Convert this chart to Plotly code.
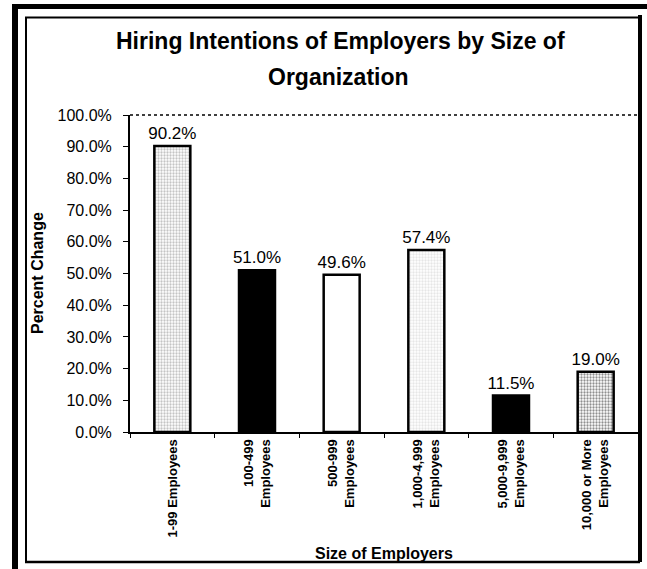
import plotly.graph_objects as go

# ---- data ----
categories = ["1-99 Employees", "100-499<br>Employees", "500-999<br>Employees",
              "1,000-4,999<br>Employees", "5,000-9,999<br>Employees",
              "10,000 or More<br>Employees"]
values = [0.902, 0.510, 0.496, 0.574, 0.115, 0.190]
y_tickvals = [0.0, 0.1, 0.2, 0.3, 0.4, 0.5, 0.6, 0.7, 0.8, 0.9, 1.0]

title_line1 = "Hiring Intentions of Employers by Size of"
title_line2 = "Organization"
y_title = "Percent Change"
x_title = "Size of Employers"

# ---- styles ----
bar_colors = ["#c4c4c4", "#000000", "#ffffff", "#e6e6e6", "#000000", "#8f8f8f"]
pat_shapes = [".", "", "", ".", "", "."]
pat_fg = ["#4a4a4a", "#000000", "#ffffff", "#7a7a7a", "#000000", "#333333"]
pat_bg = ["#d2d2d2", "#000000", "#ffffff", "#efefef", "#000000", "#a3a3a3"]

FONT = "Liberation Sans, Arial, sans-serif"
W, H = 647, 569
L, R, T, B = 130, 9, 115, 137
PW, PH = W - L - R, H - T - B


def px(x):
    return (x - L) / PW


def py(y):
    return (H - B - y) / PH


fig = go.Figure()
fig.add_trace(go.Bar(
    x=categories,
    y=values,
    texttemplate="%{y:.1%}",
    textposition="outside",
    constraintext="none",
    cliponaxis=False,
    textfont=dict(family=FONT, size=17, color="black"),
    marker=dict(
        color=bar_colors,
        line=dict(color="black", width=2.5),
        pattern=dict(shape=pat_shapes, fgcolor=pat_fg, bgcolor=pat_bg,
                     size=3, solidity=0.45, fillmode="replace"),
    ),
    showlegend=False,
))


def line(x0, y0, x1, y1, w, dash="solid", color="black"):
    return dict(type="line", xref="paper", yref="paper",
                x0=px(x0), y0=py(y0), x1=px(x1), y1=py(y1),
                line=dict(color=color, width=w, dash=dash), layer="above")


shapes = [
    # outer thick border (partial, as scanned)
    line(12, 6.5, 647, 6.5, 5),
    line(15, 4, 15, 569, 6),
    # inner thin frame
    line(25, 17.5, 640, 17.5, 2),
    line(26, 17.5, 26, 562, 2),
    line(25, 562, 640, 562, 2.5),
    line(640, 15, 640, 562, 4),
    # top of plot area (dotted)
    line(130, 115, 638, 115, 1.5, dash="dot"),
]

annotations = [
    dict(text="<b>" + title_line1 + "</b>", xref="paper", yref="paper",
         x=px(340), y=py(41), xanchor="center", yanchor="middle",
         showarrow=False, font=dict(family=FONT, size=23, color="black")),
    dict(text="<b>" + title_line2 + "</b>", xref="paper", yref="paper",
         x=px(338), y=py(77), xanchor="center", yanchor="middle",
         showarrow=False, font=dict(family=FONT, size=23, color="black")),
    dict(text="<b>" + y_title + "</b>", xref="paper", yref="paper",
         x=px(37), y=py(273), xanchor="center", yanchor="middle", textangle=-90,
         showarrow=False, font=dict(family=FONT, size=16, color="black")),
    dict(text="<b>" + x_title + "</b>", xref="paper", yref="paper",
         x=px(384), y=py(553), xanchor="center", yanchor="middle",
         showarrow=False, font=dict(family=FONT, size=16, color="black")),
]

fig.update_layout(
    width=W, height=H,
    margin=dict(l=L, r=R, t=T, b=B, pad=0),
    paper_bgcolor="white", plot_bgcolor="white",
    font=dict(family=FONT, color="black"),
    bargap=0.575,
    shapes=shapes,
    annotations=annotations,
    xaxis=dict(
        type="category", categoryorder="array", categoryarray=categories,
        showline=True, linecolor="black", linewidth=2,
        ticks="outside", ticklen=4, tickcolor="black", tickwidth=1,
        tickson="boundaries", tickangle=-90,
        tickfont=dict(family=FONT, size=13, color="black", weight="bold"),
        showgrid=False, zeroline=False,
    ),
    yaxis=dict(
        range=[0, 1], tickvals=y_tickvals, tickformat=".1%",
        showline=True, linecolor="black", linewidth=2,
        ticks="outside", ticklen=5, tickcolor="black", tickwidth=1,
        ticklabelstandoff=8,
        tickfont=dict(family=FONT, size=16, color="black"),
        showgrid=False, zeroline=False,
    ),
)

fig.write_html("out.html",
               config={"displayModeBar": False},
               post_script="document.body.style.margin='0';"
                           "document.body.style.overflow='hidden';")
